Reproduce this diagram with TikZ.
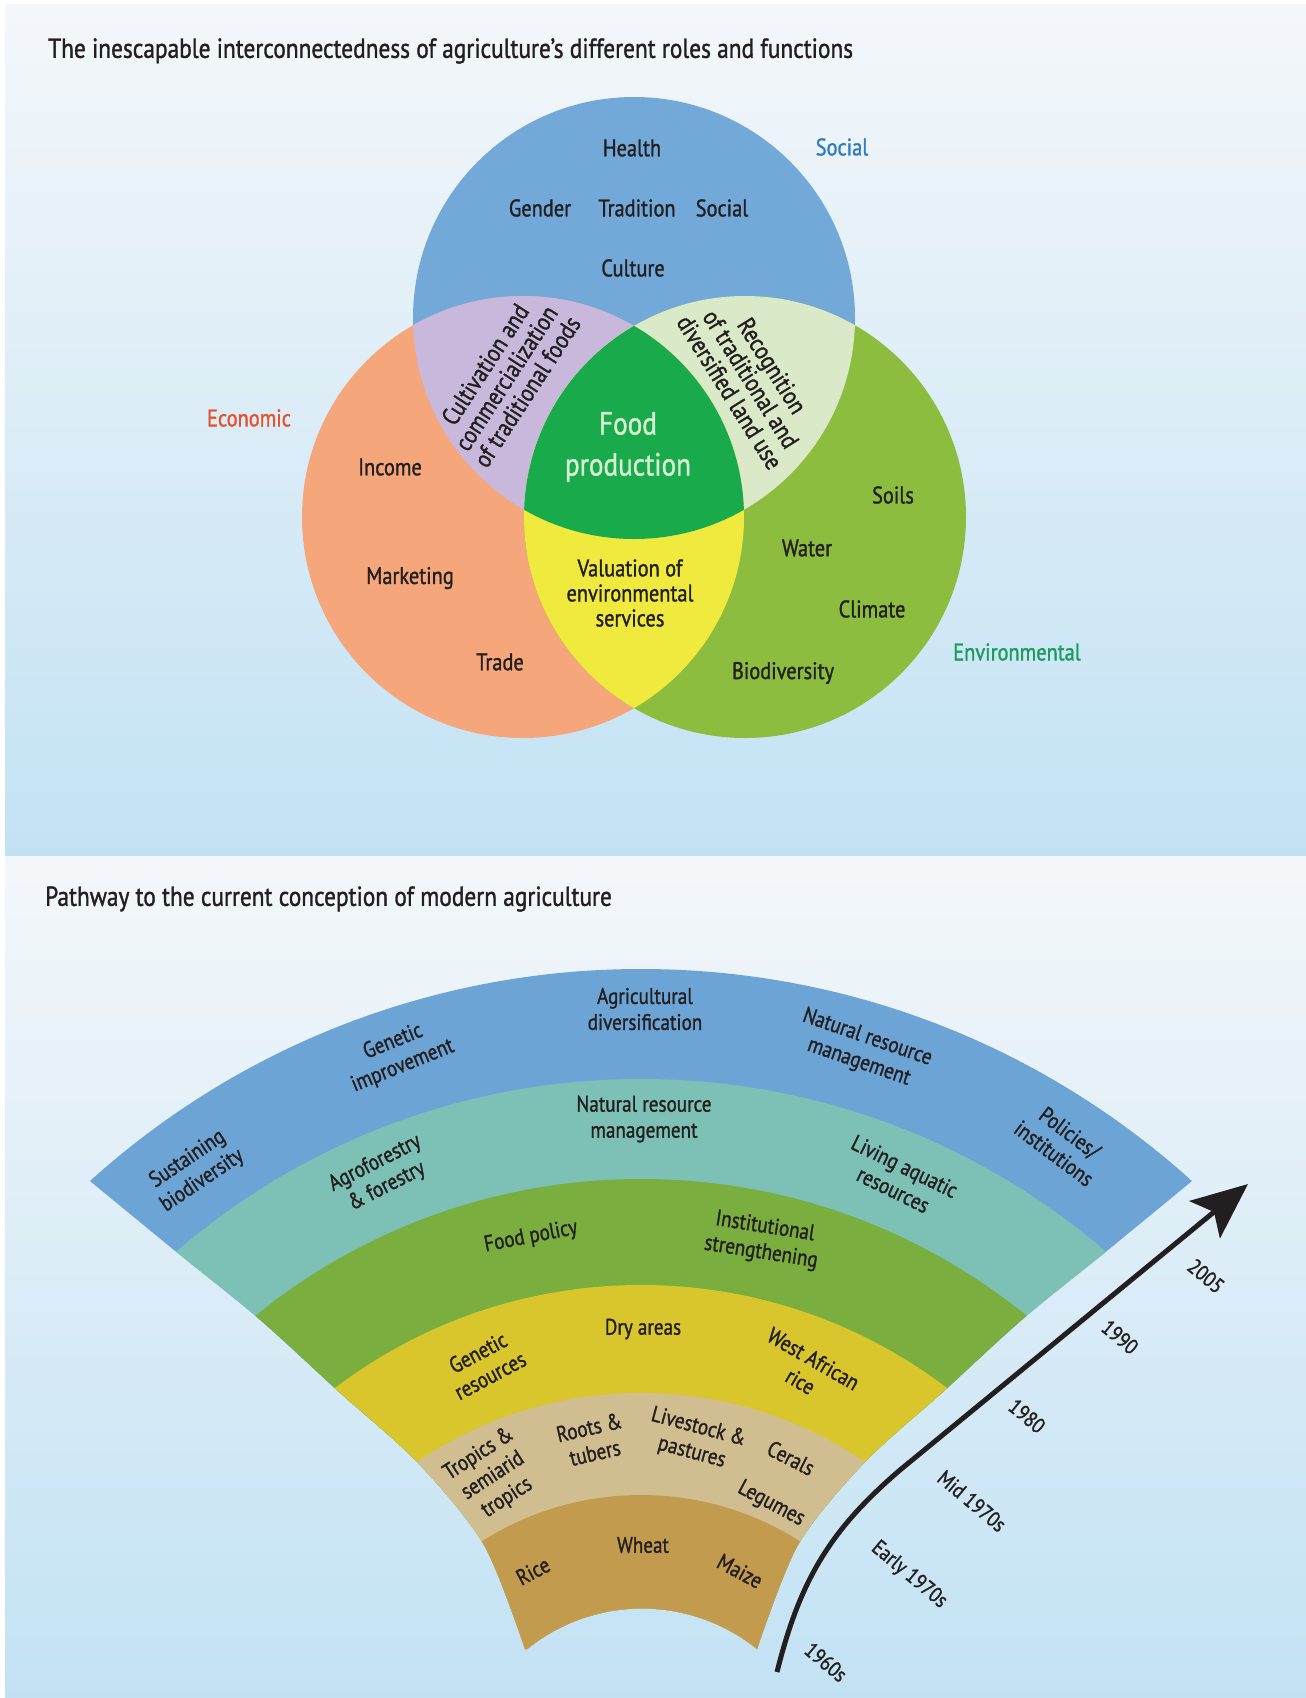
\documentclass[tikz,border=0pt]{standalone}
\usepackage{fontspec}
\setmainfont{PT Sans}[FakeStretch=0.85, FakeBold=1.2]
\usetikzlibrary{arrows.meta}
% palette
\definecolor{ink}{HTML}{231F20}
\definecolor{bgtop}{HTML}{F4F7FA}
\definecolor{bgmid}{HTML}{E4EFF7}
\definecolor{bgbot}{HTML}{C2E2F4}
\definecolor{socialc}{HTML}{72A9D9}
\definecolor{econc}{HTML}{F5A67A}
\definecolor{envc}{HTML}{8CBD3F}
\definecolor{seint}{HTML}{C8B9DC}
\definecolor{svint}{HTML}{DAE9C7}
\definecolor{evint}{HTML}{F0EA3E}
\definecolor{corec}{HTML}{19AA4B}
\definecolor{foodtxt}{HTML}{D7EFD2}
\definecolor{socialtxt}{HTML}{2E7DC0}
\definecolor{econtxt}{HTML}{E4532E}
\definecolor{envtxt}{HTML}{1D9A5E}
\definecolor{ringA}{HTML}{6DA4D6}
\definecolor{ringB}{HTML}{7DC0B6}
\definecolor{ringC}{HTML}{7AAE3F}
\definecolor{ringD}{HTML}{D9C62C}
\definecolor{ringE}{HTML}{D0BE90}
\definecolor{ringF}{HTML}{C39B4E}
\begin{document}
\begin{tikzpicture}[x=1pt,y=-1pt,
  lbl/.style={inner sep=0pt, text=ink, font=\fontsize{24}{25}\selectfont, align=center},
  ftxt/.style={inner sep=0pt, text=ink, font=\fontsize{22.5}{26}\selectfont, align=center},
  yr/.style={inner sep=0pt, text=ink, font=\fontsize{21.5}{24}\selectfont, rotate=-40},
  ttl/.style={inner sep=0pt, text=ink, font=\fontsize{27.5}{30}\selectfont, anchor=west},
]
\useasboundingbox (0,0) rectangle (1306,1698);
\fill[white] (0,0) rectangle (1306,1698);
% the two panels
\shade[top color=bgtop, middle color=bgmid, bottom color=bgbot] (5,4) rectangle (1306,856);
\shade[top color=bgtop, middle color=bgmid, bottom color=bgbot] (5,856) rectangle (1306,1698);

\node[ttl] (title1) at (48,51) {The inescapable interconnectedness of agriculture’s different roles and functions};
\node[ttl] (title2) at (45,899) {Pathway to the current conception of modern agriculture};

% ---------- Venn diagram ----------
\coordinate (S) at (634,318);
\coordinate (E) at (523,517);
\coordinate (V) at (745,517);
\def\vr{221}
\fill[socialc] (S) circle[radius=\vr];
\fill[econc] (E) circle[radius=\vr];
\fill[envc] (V) circle[radius=\vr];
\begin{scope}
  \clip (S) circle[radius=\vr];
  \fill[seint] (E) circle[radius=\vr];
  \fill[svint] (V) circle[radius=\vr];
\end{scope}
\begin{scope}
  \clip (E) circle[radius=\vr];
  \fill[evint] (V) circle[radius=\vr];
\end{scope}
\begin{scope}
  \clip (S) circle[radius=\vr];
  \clip (E) circle[radius=\vr];
  \fill[corec] (V) circle[radius=\vr];
\end{scope}

\node[lbl, text=socialtxt] (lsocial) at (842,147) {Social};
\node[lbl, text=econtxt] (lecon) at (249,418) {Economic};
\node[lbl, text=envtxt] (lenv) at (1017,652) {Environmental};

\node[lbl] (health) at (632,148) {Health};
\node[lbl] (gender) at (540,208) {Gender};
\node[lbl] (tradition) at (637,208) {Tradition};
\node[lbl] (social) at (722,208) {Social};
\node[lbl] (culture) at (633,268) {Culture};

\node[lbl] (income) at (390,467) {Income};
\node[lbl] (marketing) at (410,578) {Marketing};
\node[lbl] (trade) at (500,662) {Trade};

\node[lbl, text=foodtxt, font=\fontsize{32}{41}\selectfont] (food) at (628,447) {Food\\production};
\node[lbl] (valuation) at (630,593) {Valuation of\\environmental\\services};

\node[lbl] (soils) at (893,495) {Soils};
\node[lbl] (water) at (807,548) {Water};
\node[lbl] (climate) at (872,609) {Climate};
\node[lbl] (biodiv) at (783,673) {Biodiversity};

\node[lbl, rotate=57, font=\fontsize{25}{25}\selectfont] (cultivation) at (506,378) {Cultivation and\\commercialization\\of traditional foods};
\node[lbl, rotate=-58, font=\fontsize{25}{25}\selectfont] (recognition) at (751,379) {Recognition\\of traditional and\\diversified land use};

% ---------- pathway fan ----------
\coordinate (C) at (641,1791);
\begin{scope}
  \clip plot[smooth] coordinates {(525,1649) (484,1545) (418,1463) (338,1391) (258,1318) (174,1250) (90,1181)}
    arc[start angle=-132.1, end angle=-47.9, radius=822]
    -- plot[smooth] coordinates {(1192,1181) (1108,1250) (1024,1318) (944,1391) (864,1463) (798,1545) (757,1649)}
    arc[start angle=-51.1, end angle=-128.9, radius=183] -- cycle;
  \fill[ringA] (C) circle[radius=822];
  \fill[ringB] (C) circle[radius=712];
  \fill[ringC] (C) circle[radius=612];
  \fill[ringD] (C) circle[radius=506];
  \fill[ringE] (C) circle[radius=398];
  \fill[ringF] (C) circle[radius=296];
\end{scope}

% outer ring
\node[ftxt, rotate=34] (sust) at (195,1170) {Sustaining\\biodiversity};
\node[ftxt, rotate=22] (genimp) at (398,1054) {Genetic\\improvement};
\node[ftxt] (agdiv) at (645,1009) {Agricultural\\diversification};
\node[ftxt, rotate=-19] (nrmA) at (863,1050) {Natural resource\\management};
\node[ftxt, rotate=-37] (policies) at (1062,1143) {Policies/\\institutions};
% second ring
\node[ftxt, rotate=27] (agrofor) at (381,1175) {Agroforestry\\\&~forestry};
\node[ftxt] (nrmB) at (644,1119) {Natural resource\\management};
\node[ftxt, rotate=-26] (aquatic) at (899,1178) {Living aquatic\\resources};
% third ring
\node[ftxt, rotate=11] (foodpol) at (531,1237) {Food policy};
\node[ftxt, rotate=-9] (inst) at (763,1240) {Institutional\\strengthening};
% fourth ring
\node[ftxt, rotate=28] (genres) at (484,1364) {Genetic\\resources};
\node[ftxt] (dry) at (643,1329) {Dry areas};
\node[ftxt, rotate=-30] (warice) at (807,1370) {West African\\rice};
% fifth ring
\node[ftxt, rotate=33] (tropics) at (493,1476) {Tropics \&\\semiarid\\tropics};
\node[ftxt, rotate=13] (roots) at (592,1440) {Roots \&\\tubers};
\node[ftxt, rotate=-15] (livestock) at (695,1440) {Livestock \&\\pastures};
\node[ftxt, rotate=-27] (cereals) at (791,1458) {Cerals};
\node[ftxt, rotate=-28] (legumes) at (771,1504) {Legumes};
% inner ring
\node[ftxt, rotate=28] (rice) at (533,1571) {Rice};
\node[ftxt] (wheat) at (643,1545) {Wheat};
\node[ftxt, rotate=-28] (maize) at (740,1571) {Maize};

% time axis
\coordinate (t0) at (777,1672);
\coordinate (t1) at (1248,1184);
\draw[line width=5pt, ink, -{Stealth[length=56pt, width=48pt, inset=12pt]}]
  (t0) .. controls (800,1580) and (830,1530) .. (900,1470) -- (t1);

\node[yr] (y2005) at (1206,1276) {2005};
\node[yr] (y1990) at (1120,1337) {1990};
\node[yr] (y1980) at (1027,1416) {1980};
\node[yr] (ymid) at (972,1501) {Mid 1970s};
\node[yr] (yearly) at (909,1575) {Early 1970s};
\node[yr] (y1960) at (826,1662) {1960s};
\end{tikzpicture}
\end{document}
